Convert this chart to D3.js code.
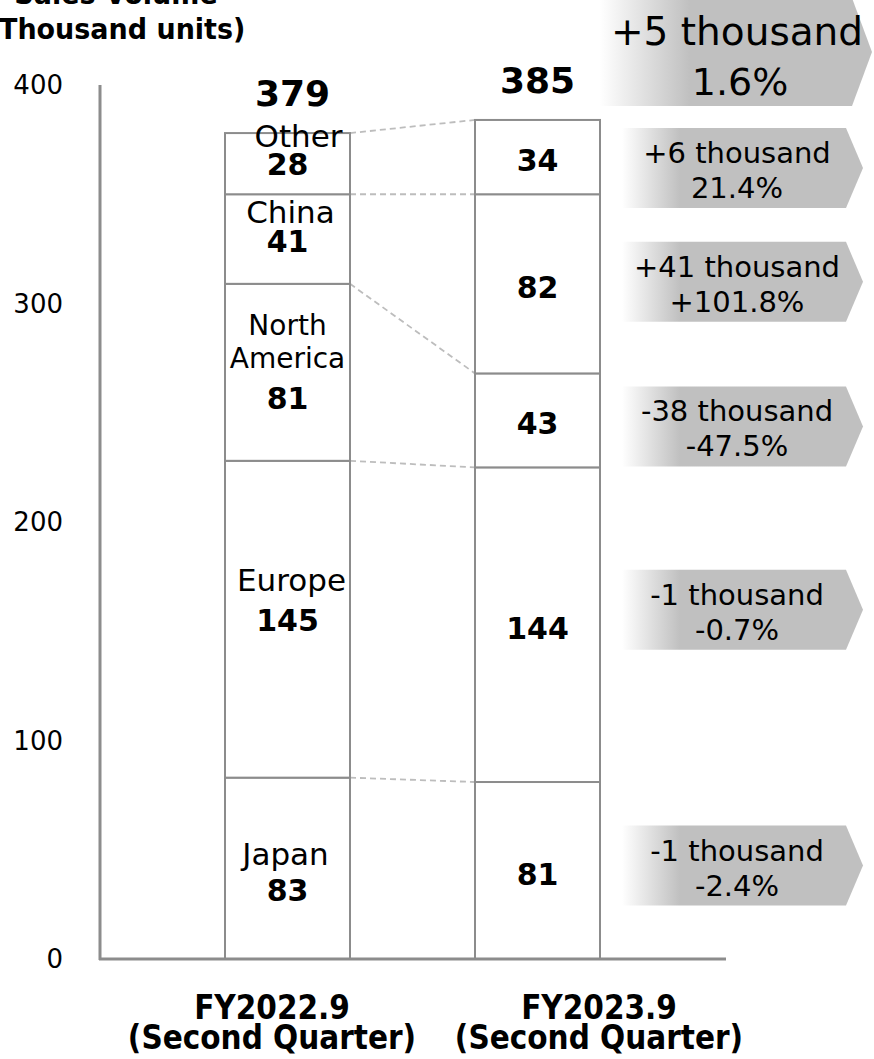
<!DOCTYPE html>
<html>
<head>
<meta charset="utf-8">
<script src="https://cdn.jsdelivr.net/npm/d3@7"></script>
<style>
  html, body { margin: 0; padding: 0; background: #fff; }
  svg { display: block; font-family: "DejaVu Sans", Verdana, sans-serif; }
</style>
</head>
<body>
<svg id="chart" width="874" height="1059"></svg>
<script>
// ---------------- data ----------------
const categories = ["FY2022.9", "FY2023.9"];
const subCategory = "(Second Quarter)";
const regions = ["Japan", "Europe", "North America", "China", "Other"];
const fy2022 = [83, 145, 81, 41, 28];
const fy2023 = [81, 144, 43, 82, 34];
const totals = [379, 385];
const changeAbs = ["-1 thousand", "-1 thousand", "-38 thousand", "+41 thousand", "+6 thousand"];
const changePct = ["-2.4%", "-0.7%", "-47.5%", "+101.8%", "21.4%"];
const totalChange = ["+5 thousand", "1.6%"];
const yTicks = [0, 100, 200, 300, 400];
const titleLines = ["Sales Volume", "(Thousand units)"];

// ---------------- layout / style ----------------
const svg = d3.select("#chart");
const grey = "#8c8c8c";
const y = d3.scaleLinear().domain([0, 400]).range([959, 85]);
const x = d3.scaleBand().domain(categories).range([225, 600]).paddingInner(0.5).paddingOuter(0);
const bw = x.bandwidth();

// gradient for arrows
const defs = svg.append("defs");
function grad(id, stop) {
  const g = defs.append("linearGradient").attr("id", id).attr("x1", "0").attr("x2", "1").attr("y1", "0").attr("y2", "0");
  g.append("stop").attr("offset", "0").attr("stop-color", "#ffffff");
  g.append("stop").attr("offset", stop).attr("stop-color", "#c0c0c0");
  g.append("stop").attr("offset", "1").attr("stop-color", "#c0c0c0");
}
grad("gSmall", 0.24);
grad("gBig", 0.33);

// title (bold, slightly condensed)
svg.append("g").selectAll("text").data(titleLines).join("text")
  .attr("transform", (d, i) => `translate(116,${4 + i * 35}) scale(0.93,1)`)
  .attr("text-anchor", "middle").attr("font-weight", "bold").attr("font-size", 29)
  .attr("fill", "#000").text(d => d);

// y axis labels
svg.append("g").selectAll("text").data(yTicks).join("text")
  .attr("x", 63).attr("y", d => y(d) + 9)
  .attr("text-anchor", "end").attr("font-size", 26).attr("fill", "#000")
  .text(d => d);

// stacked data
function stack(vals) {
  let acc = 0;
  return vals.map((v, i) => { const s = { i, v, y0: acc, y1: acc + v }; acc += v; return s; });
}
const stacks = [stack(fy2022), stack(fy2023)];

// dashed connectors between segment tops
svg.append("g").selectAll("line").data(regions).join("line")
  .attr("x1", x(categories[0]) + bw).attr("x2", x(categories[1]))
  .attr("y1", (d, i) => y(stacks[0][i].y1))
  .attr("y2", (d, i) => y(stacks[1][i].y1))
  .attr("stroke", "#bdbdbd").attr("stroke-width", 1.8).attr("stroke-dasharray", "6,4");

// bars
stacks.forEach((st, ci) => {
  svg.append("g").selectAll("rect").data(st).join("rect")
    .attr("x", x(categories[ci])).attr("width", bw)
    .attr("y", d => y(d.y1)).attr("height", d => y(d.y0) - y(d.y1))
    .attr("fill", "#fff").attr("stroke", grey).attr("stroke-width", 2);
});

// axes lines
svg.append("line").attr("x1", 100).attr("x2", 100).attr("y1", y(400)).attr("y2", y(0) + 1)
  .attr("stroke", grey).attr("stroke-width", 3);
svg.append("line").attr("x1", 99).attr("x2", 726).attr("y1", y(0)).attr("y2", y(0))
  .attr("stroke", grey).attr("stroke-width", 3);

// labels inside left bar (name lines + value), baselines relative to segment middle
const leftLayout = [
  { names: [-3], value: 33, size: 31, dx: -2 },
  { names: [-28], value: 12, size: 31, dx: 4 },
  { names: [-37, -4], value: 37, size: 28, dx: 0 },
  { names: [-16], value: 13, size: 31, dx: 3 },
  { names: [-17], value: 11, size: 31, dx: 11 }
];
const cx0 = x(categories[0]) + bw / 2;
const cx1 = x(categories[1]) + bw / 2;
stacks[0].forEach((s, i) => {
  const mid = (y(s.y0) + y(s.y1)) / 2;
  const nameParts = regions[i] === "North America" ? ["North", "America"] : [regions[i]];
  nameParts.forEach((n, k) => {
    svg.append("text").attr("x", cx0 + leftLayout[i].dx).attr("y", mid + leftLayout[i].names[k])
      .attr("text-anchor", "middle").attr("font-size", leftLayout[i].size).attr("fill", "#000").text(n);
  });
  svg.append("text").attr("x", cx0).attr("y", mid + leftLayout[i].value)
    .attr("text-anchor", "middle").attr("font-size", 30).attr("font-weight", "bold").attr("fill", "#000").text(s.v);
});
// right bar values
svg.append("g").selectAll("text").data(stacks[1]).join("text")
  .attr("x", cx1).attr("y", d => (y(d.y0) + y(d.y1)) / 2 + 14)
  .attr("text-anchor", "middle").attr("font-size", 30).attr("font-weight", "bold").attr("fill", "#000")
  .text(d => d.v);

// totals
svg.append("g").selectAll("text").data(totals).join("text")
  .attr("x", (d, i) => x(categories[i]) + bw / 2 + (i === 0 ? 5 : 0))
  .attr("y", (d, i) => y(d) - 25)
  .attr("text-anchor", "middle").attr("font-size", 36).attr("font-weight", "bold").attr("fill", "#000")
  .text(d => d);

// x category labels (condensed bold)
const labelCenters = [272, 599];
categories.forEach((c, i) => {
  [c, subCategory].forEach((t, k) => {
    svg.append("text")
      .attr("transform", `translate(${labelCenters[i]},${1019 + k * 30}) scale(0.87,1)`)
      .attr("text-anchor", "middle").attr("font-size", 34).attr("font-weight", "bold").attr("fill", "#000")
      .text(t);
  });
});

// change arrows for each region
const arrowNudge = [-5, -15, 6, -2, 11];
const ax0 = 622, axRect = 846, axTip = 863, ah = 80;
stacks[1].forEach((s, i) => {
  const c = (y(s.y0) + y(s.y1)) / 2 + arrowNudge[i];
  const pts = [[ax0, c - ah / 2], [axRect, c - ah / 2], [axTip, c], [axRect, c + ah / 2], [ax0, c + ah / 2]];
  svg.append("path").attr("d", d3.line()(pts) + "Z").attr("fill", "url(#gSmall)");
  svg.append("text").attr("x", 737).attr("y", c - 5).attr("text-anchor", "middle")
    .attr("font-size", 29).attr("fill", "#000").text(changeAbs[i]);
  svg.append("text").attr("x", 737).attr("y", c + 30).attr("text-anchor", "middle")
    .attr("font-size", 29).attr("fill", "#000").text(changePct[i]);
});

// total change arrow
{
  const top = -2, bot = 106, c = (top + bot) / 2;
  const pts = [[600, top], [852, top], [872, c], [852, bot], [600, bot]];
  svg.append("path").attr("d", d3.line()(pts) + "Z").attr("fill", "url(#gBig)");
  svg.append("text").attr("x", 737).attr("y", 45).attr("text-anchor", "middle")
    .attr("font-size", 39).attr("fill", "#000").text(totalChange[0]);
  svg.append("text").attr("x", 740).attr("y", 95).attr("text-anchor", "middle")
    .attr("font-size", 38).attr("fill", "#000").text(totalChange[1]);
}
</script>
</body>
</html>
